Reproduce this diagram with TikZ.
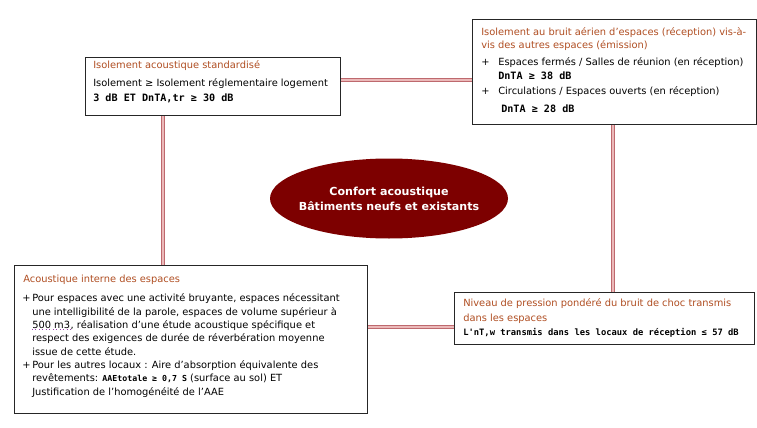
\documentclass[tikz,border=0pt]{standalone}
\usepackage{fontspec}
\setmainfont{DejaVu Sans}
\newfontfamily\monob{DejaVu Sans Mono}[BoldFont={DejaVu Sans Mono Bold}]
\usetikzlibrary{shapes.geometric}
\definecolor{titlebrown}{RGB}{176,78,34}
\definecolor{hubred}{RGB}{125,0,0}
\definecolor{linkrose}{RGB}{190,105,110}
\definecolor{linkpale}{RGB}{235,185,185}
\definecolor{tagviolet}{RGB}{150,60,170}
\begin{document}
\begin{tikzpicture}[x=0.75pt,y=-0.75pt,
  panel/.style={draw=black!85,line width=0.9pt,fill=white,inner sep=0pt,anchor=north west},
  title/.style={anchor=base west,inner sep=0pt,text=titlebrown,font=\fontsize{7.4}{9}\selectfont},
  body/.style={anchor=base west,inner sep=0pt,font=\fontsize{7.4}{9}\selectfont},
  figs/.style={anchor=base west,inner sep=0pt,font=\monob\bfseries\fontsize{7.6}{9}\selectfont},
  figsmall/.style={figs,font=\monob\bfseries\fontsize{6.6}{8}\selectfont},
  link/.style={draw=linkrose,line width=0.9pt,double=linkpale,double distance=0.9pt},
  hub/.style={ellipse,fill=hubred,minimum width=178.5pt,minimum height=60pt,inner sep=0pt},
  hubtext/.style={text=white,font=\bfseries\fontsize{8.3}{11.4}\selectfont,align=center,inner sep=0pt}]

% canvas
\useasboundingbox[fill=white] (0,0) rectangle (757,428);

% panels
\node[panel,minimum width=191.25pt,minimum height=43.5pt] (iso) at (85,57) {};
\node[panel,minimum width=213pt,minimum height=78.75pt] (aer) at (472,19) {};
\node[panel,minimum width=264.75pt,minimum height=111pt] (int) at (14,265) {};
\node[panel,minimum width=225pt,minimum height=39pt] (choc) at (454,292) {};

% central hub
\node[hub] (hub) at (389,198.5) {};
\node[hubtext] (hubT) at (hub.center) {Confort acoustique\\Bâtiments neufs et existants};

% connector guide positions
\coordinate (ytop) at (0,80);
\coordinate (ybot) at (0,327);
\coordinate (xleft) at (163,0);
\coordinate (xright) at (613,0);

% connectors
\draw[link] (iso.east |- ytop) -- (aer.west |- ytop);
\draw[link] (iso.south -| xleft) -- (int.north -| xleft);
\draw[link] (aer.south -| xright) -- (choc.north -| xright);
\draw[link] (int.east |- ybot) -- (choc.west |- ybot);

% isolement acoustique standardisé
\node[title] (isoT) at (93,68.5) {Isolement acoustique standardisé};
\node[body] (isoA) at (93,86.5) {Isolement ≥ Isolement réglementaire logement};
\node[figs] (isoB) at (93,101.5) {3 dB ET DnTA,tr ≥ 30 dB};

% bruit aérien
\node[title] (aerT1) at (481,36) {Isolement au bruit aérien d'espaces (réception) vis-à-};
\node[title] (aerT2) at (481,48.5) {vis des autres espaces (émission)};
\node[body] (aerP1) at (481,65.5) {+};
\node[body] (aerA) at (498,65.5) {Espaces fermés / Salles de réunion (en réception)};
\node[figs] (aerB) at (498,79.5) {DnTA ≥ 38 dB};
\node[body] (aerP2) at (481,94) {+};
\node[body] (aerC) at (498,94) {Circulations / Espaces ouverts (en réception)};
\node[figs] (aerD) at (501,112.5) {DnTA ≥ 28 dB};

% acoustique interne
\node[title] (intT) at (23,282.5) {Acoustique interne des espaces};
\node[body] (intP1) at (22,301.5) {+};
\node[body] (intA) at (32,301.5) {Pour espaces avec une activité bruyante, espaces nécessitant};
\node[body] (intB) at (32,315.5) {une intelligibilité de la parole, espaces de volume supérieur à};
\node[body] (intC1) at (32,328.5) {500 m3};
\node[body,anchor=base west] (intC2) at (intC1.base east) {, réalisation d'une étude acoustique spécifique et};
\draw[tagviolet,line width=0.6pt,dotted] (intC1.south west) -- (intC1.south east);
\node[body] (intD) at (32,341.5) {respect des exigences de durée de réverbération moyenne};
\node[body] (intE) at (32,355.5) {issue de cette étude.};
\node[body] (intP2) at (22,368.5) {+};
\node[body] (intF) at (32,368.5) {Pour les autres locaux : Aire d'absorption équivalente des};
\node[body] (intG) at (32,381.5) {revêtements: {\monob\bfseries\fontsize{6.2}{8}\selectfont AAEtotale ≥ 0,7 S} (surface au sol) ET};
\node[body] (intH) at (32,395.5) {Justification de l'homogénéité de l'AAE};

% bruit de choc
\node[title] (chocT1) at (463,306.5) {Niveau de pression pondéré du bruit de choc transmis};
\node[title] (chocT2) at (463,321.5) {dans les espaces};
\node[figsmall] (chocA) at (463,335.5) {L'nT,w transmis dans les locaux de réception ≤ 57 dB};

\end{tikzpicture}
\end{document}
